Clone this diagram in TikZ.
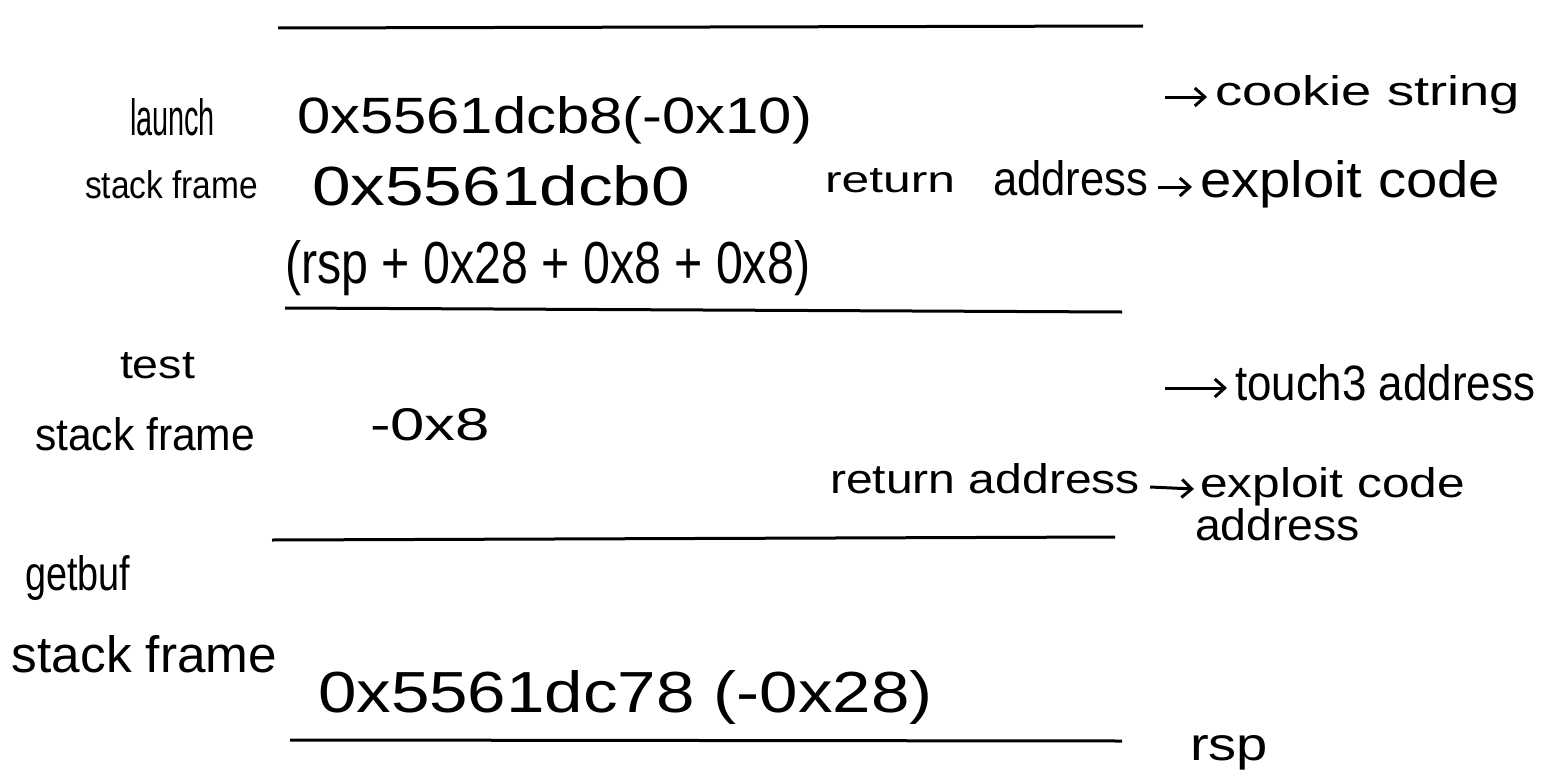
\documentclass[tikz,border=0pt]{standalone}
\usepackage{fontspec}
\setmainfont{Liberation Sans}
\usetikzlibrary{arrows.meta}
\newcommand{\hw}[3]{\resizebox{#1pt}{#2pt}{#3}}
\begin{document}
\begin{tikzpicture}[x=1pt,y=1pt,
  txt/.style={anchor=base west, inner sep=0pt, outer sep=0pt},
  frameline/.style={line width=3pt},
  harrow/.style={line width=3pt, -{Straight Barb[length=10pt,width=18pt,line width=3pt]}}]
\path[use as bounding box, fill=white] (0,0) rectangle (1566,-776);
% boundary lines
\coordinate (l1a) at (278,-28);  \coordinate (l1b) at (1143,-26);
\coordinate (l2a) at (285,-308); \coordinate (l2b) at (1122,-312);
\coordinate (l3a) at (272,-540); \coordinate (l3b) at (1115,-537);
\coordinate (l4a) at (290,-740); \coordinate (l4b) at (1122,-741);
\draw[frameline] (l1a) -- (l1b);
\draw[frameline] (l2a) -- (l2b);
\draw[frameline] (l3a) -- (l3b);
\draw[frameline] (l4a) -- (l4b);
% launch frame
\node[txt] (launch) at (130,-135) {\hw{85}{37}{launch}};
\node[txt] (launchsf) at (85,-198) {\hw{173}{28}{stack frame}};
\node[txt] (addr1) at (297,-133) {\hw{515}{37}{0x5561dcb8(-0x10)}};
\node[txt] (cookie) at (1215,-105) {\hw{305}{30}{cookie string}};
\coordinate (cookiestart) at (1165,-97);
\draw[harrow] (cookiestart) -- ([xshift=-8pt]cookie.west|-cookiestart);
\node[txt] (addr2) at (312,-205) {\hw{378}{40}{0x5561dcb0}};
\node[txt] (ret1) at (825,-192) {\hw{130}{24}{return}};
\node[txt] (address1) at (993,-195) {\hw{155}{35}{address}};
\node[txt] (exploit1) at (1200,-197) {\hw{300}{37}{exploit code}};
\draw[harrow] ([xshift=10pt,yshift=8pt]address1.base east) -- ([xshift=-8pt,yshift=10pt]exploit1.base west);
\node[txt] (rspexpr) at (285,-283) {\hw{525}{43}{(rsp + 0x28 + 0x8 + 0x8)}};
% test frame
\node[txt] (test) at (120,-378) {\hw{75}{26}{test}};
\node[txt] (testsf) at (35,-450) {\hw{220}{33}{stack frame}};
\node[txt] (m8) at (370,-440) {\hw{120}{32}{-0x8}};
\node[txt] (touch3) at (1235,-400) {\hw{300}{36}{touch3 address}};
\coordinate (touchstart) at (1165,-388);
\draw[harrow] (touchstart) -- ([xshift=-8pt]touch3.west|-touchstart);
\node[txt] (ret2) at (830,-493) {\hw{310}{30}{return address}};
\node[txt] (exploit2) at (1200,-497) {\hw{265}{30}{exploit code}};
\node[txt] (exploit2b) at (1195,-540) {\hw{165}{32}{address}};
\draw[harrow] ([xshift=10pt,yshift=6pt]ret2.base east) -- ([xshift=-6pt,yshift=8pt]exploit2.base west);
% getbuf frame
\node[txt] (getbuf) at (25,-590) {\hw{105}{35}{getbuf}};
\node[txt] (getbufsf) at (12,-672) {\hw{265}{37}{stack frame}};
\node[txt] (addr3) at (318,-712) {\hw{615}{42}{0x5561dc78 (-0x28)}};
\node[txt] (rsp) at (1190,-760) {\hw{78}{25}{rsp}};
\end{tikzpicture}
\end{document}
